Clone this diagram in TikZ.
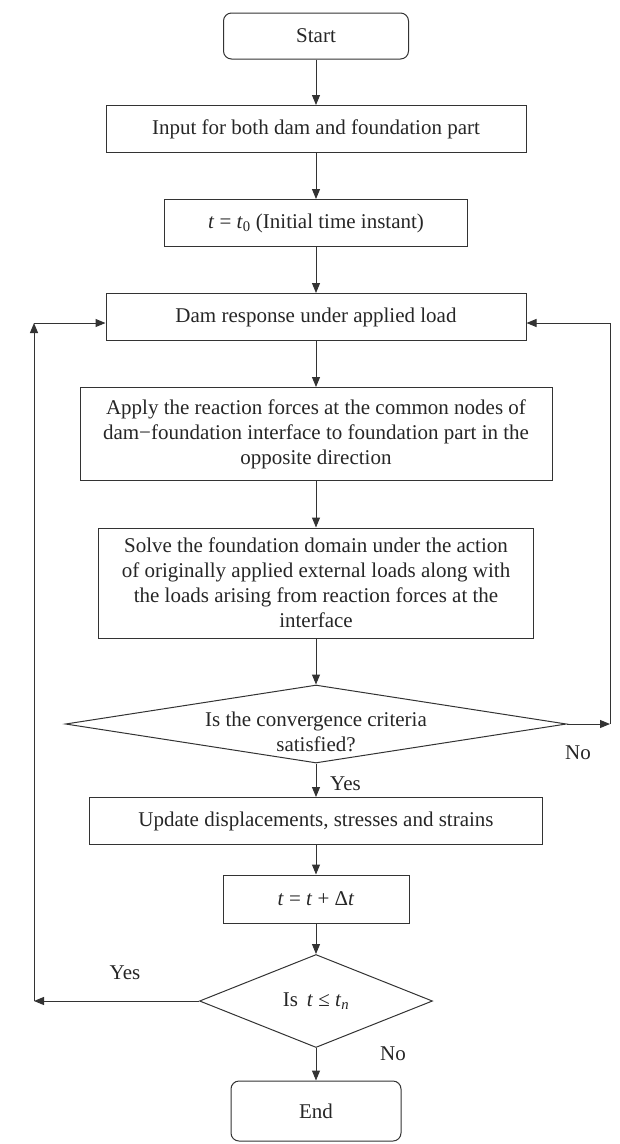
\documentclass[tikz,border=0pt]{standalone}
\usepackage{fontspec}
\setmainfont{Liberation Serif}
\usetikzlibrary{shapes.geometric,arrows.meta}
\begin{document}
\begin{tikzpicture}[x=1pt,y=-1pt]
\tikzset{
  every node/.style={font=\fontsize{21}{25}\selectfont, text=black!85},
  box/.style={draw=black!80, line width=1pt, rectangle, inner sep=0pt, align=center},
  term/.style={box, rounded corners=8pt},
  dia/.style={draw=black!80, line width=1pt, diamond, inner sep=0pt},
  arr/.style={draw=black!80, line width=1pt, -{Triangle[length=10pt,width=8pt]}},
  lbl/.style={inner sep=0pt}
}
\useasboundingbox (0,0) rectangle (619,1144);
\node[term, minimum width=185pt, minimum height=46pt] (start) at (316,36) {Start};
\node[box, minimum width=420pt, minimum height=47pt] (input) at (316,129) {Input for both dam and foundation part};
\node[box, minimum width=303pt, minimum height=47pt] (t0) at (316,223) {\textit{t} = \textit{t}\textsubscript{0} (Initial time instant)};
\node[box, minimum width=420pt, minimum height=47pt] (dam) at (316,317) {Dam response under applied load};
\node[box, minimum width=472pt, minimum height=93pt] (apply) at (316,434) {Apply the reaction forces at the common nodes of\\dam−foundation interface to foundation part in the\\opposite direction};
\node[box, minimum width=435pt, minimum height=110pt] (solve) at (316,583) {Solve the foundation domain under the action\\of originally applied external loads along with\\the loads arising from reaction forces at the\\interface};
\node[dia, minimum width=501pt, minimum height=78pt] (d1) at (316,724) {};
\node[lbl, align=center] (d1t) at ([yshift=-8pt]d1.center) {Is the convergence criteria\\satisfied?};
\node[box, minimum width=453pt, minimum height=47pt] (update) at (316,821) {Update displacements, stresses and strains};
\node[box, minimum width=186pt, minimum height=48pt] (dt) at (316,899) {\textit{t} = \textit{t} + Δ\textit{t}};
\node[dia, minimum width=233pt, minimum height=93pt] (d2) at (316,1001) {};
\node[lbl] (d2t) at (d2.center) {Is \,\textit{t} ≤ \textit{t}\textsubscript{\textit{n}}};
\node[term, minimum width=170pt, minimum height=60pt] (end) at (316,1111) {End};

\coordinate (R) at (610,724);
\coordinate (L1) at (34,1001);
\coordinate (L2) at (34,323);

\draw[arr] (start) -- (input);
\draw[arr] (input) -- (t0);
\draw[arr] (t0) -- (dam);
\draw[arr] (dam) -- (apply);
\draw[arr] (apply) -- (solve);
\draw[arr] (solve) -- (d1);
\draw[arr] (d1) -- (update);
\draw[arr] (update) -- (dt);
\draw[arr] (dt) -- (d2);
\draw[arr] (d2) -- (end);
\draw[arr] (d1.east) -- (R);
\draw[arr] (R) |- ([yshift=-6pt]dam.east);
\draw[arr] (d2.west) -- (L1);
\draw[arr] (L1) -- (L2);
\draw[arr] (L2) -- (L2 -| dam.west);

\node[lbl, anchor=west] (yes1) at (330,784) {Yes};
\node[lbl] (no1) at (578,753) {No};
\node[lbl] (yes2) at (125,973) {Yes};
\node[lbl] (no2) at (393,1054) {No};
\end{tikzpicture}
\end{document}
